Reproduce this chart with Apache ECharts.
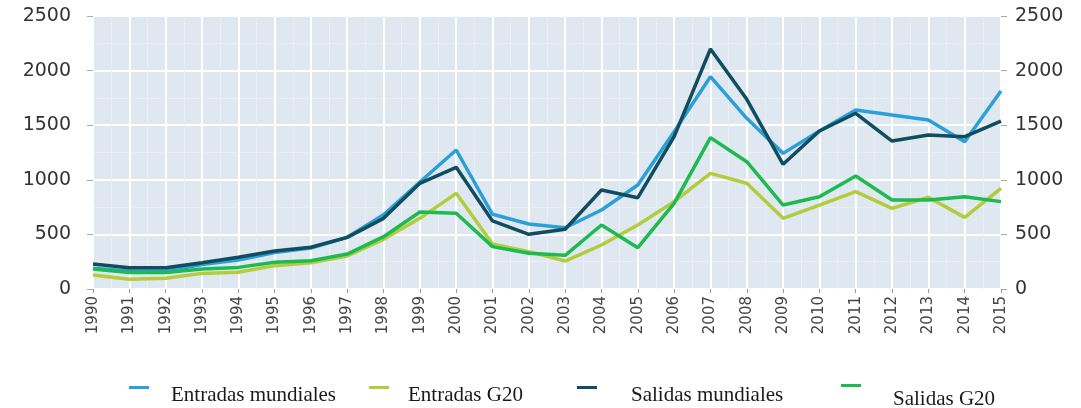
<!DOCTYPE html>
<html>
<head>
<meta charset="utf-8">
<script src="https://cdn.jsdelivr.net/npm/echarts@6/dist/echarts.min.js"></script>
<style>
  html, body { margin: 0; padding: 0; background: #fff; }
  #main { width: 1081px; height: 408px; }
</style>
</head>
<body>
<div id="main"></div>
<script>
var years = [1990,1991,1992,1993,1994,1995,1996,1997,1998,1999,2000,2001,2002,2003,2004,2005,2006,2007,2008,2009,2010,2011,2012,2013,2014,2015];
var entradasMundiales = [190,165,165,225,265,335,375,473,680,980,1273,684,595,561,723,952,1441,1944,1563,1242,1447,1639,1593,1548,1349,1813];
var entradasG20 = [128,89,98,143,153,214,241,302,455,647,876,412,342,256,403,586,800,1059,968,647,769,891,739,840,656,922];
var salidasMundiales = [229,195,195,241,290,348,382,473,647,968,1114,623,501,547,907,836,1395,2198,1737,1142,1447,1609,1355,1410,1395,1538];
var salidasG20 = [183,150,150,183,198,244,259,320,479,705,693,388,327,308,586,378,785,1386,1166,769,845,1035,815,815,845,800];
var yTicks = [0,500,1000,1500,2000,2500];

var names = ['Entradas mundiales','Entradas G20','Salidas mundiales','Salidas G20'];
var colors = ['#2ba0d8','#b3cc3e','#104e5f','#1dbb4f'];
var values = [entradasMundiales, entradasG20, salidasMundiales, salidasG20];

function pairs(arr){
    return years.map(function(y, i){ return [y, arr[i]]; });
}

var chart = echarts.init(document.getElementById('main'));

var series = names.map(function(n, i){
    return {
        name: n,
        type: 'line',
        symbol: 'none',
        data: pairs(values[i]),
        lineStyle: { width: 3.5, color: colors[i] },
        itemStyle: { color: colors[i] }
    };
});

// one legend per item so each can sit where it does in the picture
// [left, top, text gap left, text drop below icon]
var legendPos = [[124, 364, 17, 16], [364, 364, 14, 16], [572, 364, 29, 16], [836, 356, 27, 28]];
var legends = names.map(function(n, i){
    var p = legendPos[i];
    return {
        left: p[0],
        top: p[1],
        data: [n],
        icon: 'rect',
        itemWidth: 20,
        itemHeight: 3,
        itemGap: 0,
        formatter: '{t|{name}}',
        textStyle: {
            rich: {
                t: {
                    fontFamily: 'Liberation Serif', fontSize: 21, lineHeight: 24,
                    color: '#1a1a1a', padding: [p[3], 0, 0, p[2]]
                }
            }
        }
    };
});

var yLabel = {
    fontFamily: 'DejaVu Sans', fontSize: 19, color: '#333',
    formatter: function(v){ return String(v); }
};

chart.setOption({
    animation: false,
    legend: legends,
    grid: {
        left: 93, right: 80, top: 16, bottom: 119,
        show: true, backgroundColor: '#dfe7f0', borderWidth: 0
    },
    xAxis: {
        type: 'value',
        min: 1990, max: 2015, interval: 1,
        axisLine: { show: false },
        axisTick: { show: true, length: 4, lineStyle: { color: '#999' } },
        axisLabel: {
            rotate: 90, margin: 7,
            fontFamily: 'DejaVu Sans', fontSize: 15, color: '#444',
            formatter: function(v){ return String(v); }
        },
        splitLine: { show: true, lineStyle: { color: '#ffffff', width: 2 } },
        minorTick: { show: false, splitNumber: 2 },
        minorSplitLine: { show: true, lineStyle: { color: '#eaeff5', width: 1 } }
    },
    yAxis: [{
        type: 'value', position: 'left',
        min: yTicks[0], max: yTicks[yTicks.length-1], interval: 500,
        axisLine: { show: false },
        axisTick: { show: true, length: 6, lineStyle: { color: '#aaa' } },
        axisLabel: Object.assign({ margin: 22 }, yLabel),
        splitLine: { show: true, lineStyle: { color: '#ffffff', width: 2 } },
        minorTick: { show: false, splitNumber: 2 },
        minorSplitLine: { show: true, lineStyle: { color: '#eaeff5', width: 1 } }
    }, {
        type: 'value', position: 'right',
        min: yTicks[0], max: yTicks[yTicks.length-1], interval: 500,
        axisLine: { show: false },
        axisTick: { show: true, length: 6, lineStyle: { color: '#aaa' } },
        axisLabel: Object.assign({ margin: 14 }, yLabel),
        splitLine: { show: false }
    }],
    series: series
});
</script>
</body>
</html>
